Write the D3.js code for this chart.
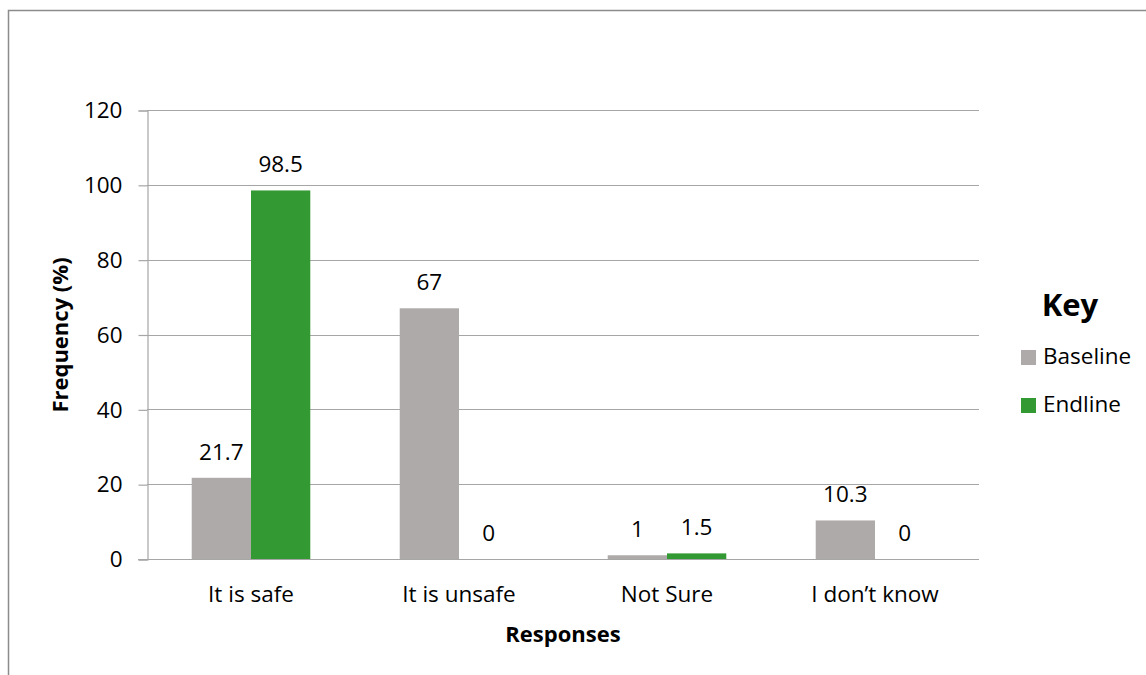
<!DOCTYPE html>
<html>
<head>
<meta charset="utf-8">
<script src="https://cdn.jsdelivr.net/npm/d3@7"></script>
<style>
  html, body { margin: 0; padding: 0; background: #fff; }
  svg { display: block; font-family: "Open Sans", Lato, sans-serif; }
</style>
</head>
<body>
<svg id="chart" width="1146" height="675"></svg>
<script>
// Responses and the share of each, baseline vs endline survey
const categories = ["It is safe", "It is unsafe", "Not Sure", "I don\u2019t know"];
const seriesNames = ["Baseline", "Endline"];
const baseline = [21.7, 67, 1, 10.3];
const endline = [98.5, 0, 1.5, 0];
const yTicks = [0, 20, 40, 60, 80, 100, 120];
const colors = ["#ADAAA9", "#339933"];

const svg = d3.select("#chart");
const plot = { left: 147, right: 979, top: 110, bottom: 559 };
const fs = 22.5;

// Outer frame (open on the right and bottom edges)
svg.append("rect")
  .attr("x", 8.5).attr("y", 10.5)
  .attr("width", 1200).attr("height", 700)
  .attr("fill", "none").attr("stroke", "#8c8c8c").attr("stroke-width", 1.5);

const x0 = d3.scaleBand().domain(categories)
  .range([plot.left, plot.right]).paddingInner(0.43).paddingOuter(0.215);
const x1 = d3.scaleBand().domain(seriesNames).range([0, x0.bandwidth()]);
const y = d3.scaleLinear().domain([0, 120]).range([plot.bottom, plot.top]);

// Horizontal gridlines
svg.append("g").selectAll("line").data(yTicks.filter(d => d > 0)).join("line")
  .attr("x1", plot.left).attr("x2", plot.right)
  .attr("y1", d => Math.round(y(d)) + 0.5).attr("y2", d => Math.round(y(d)) + 0.5)
  .attr("stroke", "#a6a6a6").attr("stroke-width", 1.2);

// Y axis
const yAxis = svg.append("g")
  .attr("transform", `translate(${plot.left + 0.5},0.5)`)
  .call(d3.axisLeft(y).tickValues(yTicks).tickSize(9).tickPadding(16));
yAxis.select(".domain").attr("stroke", "#a6a6a6").attr("stroke-width", 1.2);
yAxis.selectAll(".tick line").attr("stroke", "#a6a6a6").attr("stroke-width", 1.2);
yAxis.selectAll(".tick text").attr("font-size", fs).attr("fill", "#000")
  .attr("font-family", "'Open Sans', sans-serif");

// Bars
const rows = categories.map((c, i) => ({ cat: c, vals: [baseline[i], endline[i]] }));
const groups = svg.append("g").selectAll("g").data(rows).join("g")
  .attr("transform", d => `translate(${x0(d.cat)},0)`);
groups.selectAll("rect").data(d => d.vals.map((v, j) => ({ v, s: seriesNames[j], j })))
  .join("rect")
  .attr("x", d => x1(d.s)).attr("width", x1.bandwidth())
  .attr("y", d => y(d.v)).attr("height", d => y(0) - y(d.v))
  .attr("fill", d => colors[d.j]);

// Value labels
groups.selectAll("text").data(d => d.vals.map((v, j) => ({ v, s: seriesNames[j] })))
  .join("text")
  .attr("x", d => x1(d.s) + x1.bandwidth() / 2)
  .attr("y", d => y(d.v) - 18)
  .attr("text-anchor", "middle").attr("font-size", fs).attr("fill", "#000")
  .text(d => d.v);

// X axis baseline
svg.append("line")
  .attr("x1", plot.left - 9).attr("x2", plot.right)
  .attr("y1", plot.bottom + 0.5).attr("y2", plot.bottom + 0.5)
  .attr("stroke", "#a6a6a6").attr("stroke-width", 1.2);

// Category labels
svg.append("g").selectAll("text").data(categories).join("text")
  .attr("x", d => x0(d) + x0.bandwidth() / 2).attr("y", 602)
  .attr("text-anchor", "middle").attr("font-size", fs).attr("fill", "#000")
  .text(d => d);

// Axis titles
svg.append("text").attr("x", 563).attr("y", 642)
  .attr("text-anchor", "middle").attr("font-size", 22).attr("font-weight", "bold")
  .text("Responses");
svg.append("text")
  .attr("transform", "translate(68,335) rotate(-90)")
  .attr("text-anchor", "middle").attr("font-size", 22).attr("font-weight", "bold")
  .text("Frequency (%)");

// Legend
const legend = svg.append("g");
legend.append("text").attr("x", 1070).attr("y", 316)
  .attr("text-anchor", "middle").attr("font-size", 31).attr("font-weight", "bold")
  .text("Key");
seriesNames.forEach((name, i) => {
  const top = 350 + i * 48;
  legend.append("rect").attr("x", 1021).attr("y", top).attr("width", 15).attr("height", 15)
    .attr("fill", colors[i]);
  legend.append("text").attr("x", 1043).attr("y", top + 14)
    .attr("font-size", fs).attr("fill", "#000").text(name);
});
</script>
</body>
</html>
